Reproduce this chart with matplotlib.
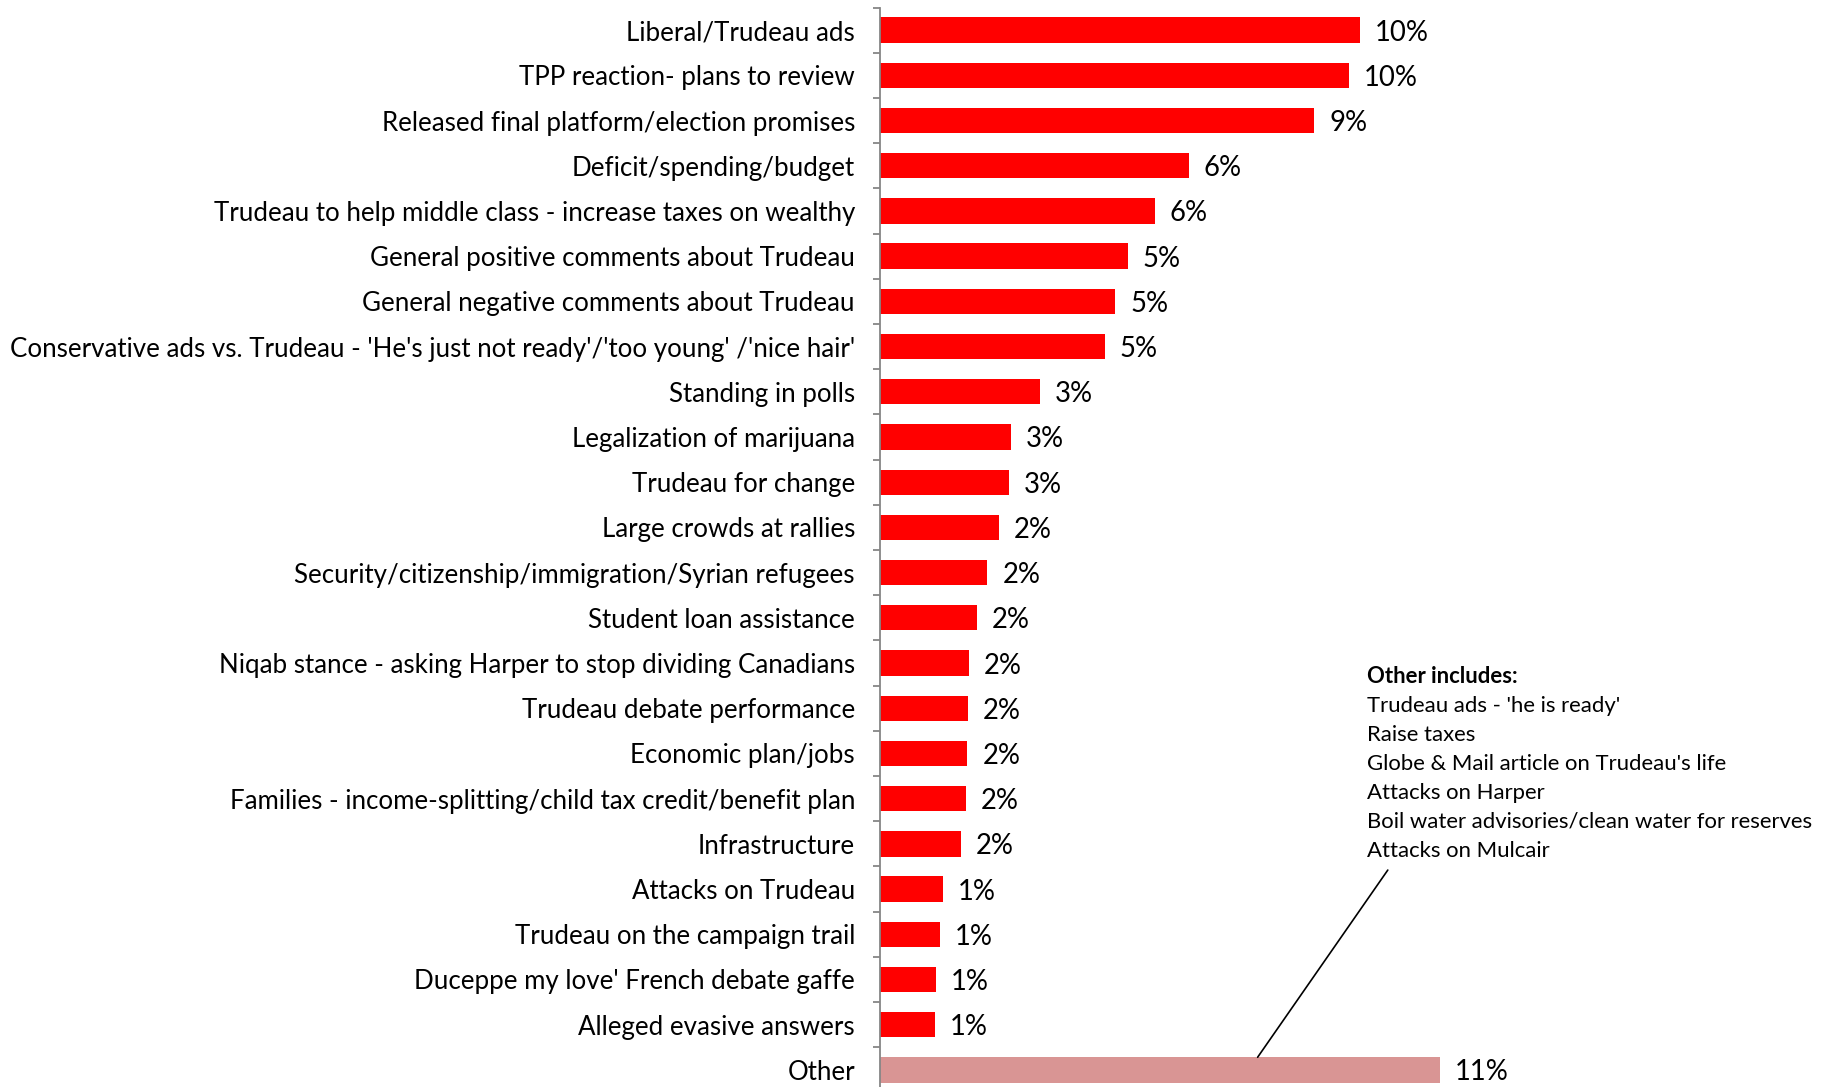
import matplotlib
matplotlib.use("Agg")
import matplotlib.pyplot as plt
from matplotlib.ticker import FixedLocator

categories = [
    "Liberal/Trudeau ads",
    "TPP reaction- plans to review",
    "Released final platform/election promises",
    "Deficit/spending/budget",
    "Trudeau to help middle class - increase taxes on wealthy",
    "General positive comments about Trudeau",
    "General negative comments about Trudeau",
    "Conservative ads vs. Trudeau - 'He's just not ready'/'too young' /'nice hair'",
    "Standing in polls",
    "Legalization of marijuana",
    "Trudeau for change",
    "Large crowds at rallies",
    "Security/citizenship/immigration/Syrian refugees",
    "Student loan assistance",
    "Niqab stance - asking Harper to stop dividing Canadians",
    "Trudeau debate performance",
    "Economic plan/jobs",
    "Families - income-splitting/child tax credit/benefit plan",
    "Infrastructure",
    "Attacks on Trudeau",
    "Trudeau on the campaign trail",
    "Duceppe my love' French debate gaffe",
    "Alleged evasive answers",
    "Other",
]
values = [9.74, 9.51, 8.81, 6.26, 5.57, 5.03, 4.77, 4.56, 3.24, 2.66, 2.62, 2.41,
          2.18, 1.96, 1.81, 1.79, 1.77, 1.74, 1.64, 1.27, 1.22, 1.13, 1.12, 11.36]
note_title = "Other includes:"
note_items = [
    "Trudeau ads - 'he is ready'",
    "Raise taxes",
    "Globe & Mail article on Trudeau's life",
    "Attacks on Harper",
    "Boil water advisories/clean water for reserves",
    "Attacks on Mulcair",
]

FONT = "Lato"
W, H = 1829, 1087
fig = plt.figure(figsize=(W / 100, H / 100), dpi=100)
ax_left_px, ax_top_px, ax_bot_px = 880, 7.5, 1092.5
ax = fig.add_axes([ax_left_px / W, 1 - ax_bot_px / H, (W - ax_left_px) / W, (ax_bot_px - ax_top_px) / H])

px_per_unit = 49.3
ax.set_xlim(0, (W - ax_left_px) / px_per_unit)
n = len(categories)
ax.set_ylim(n - 0.5, -0.5)

colors = ["#FF0000"] * (n - 1) + ["#D99594"]
ypos = list(range(n))
ax.barh(ypos, values, height=0.56, color=colors, edgecolor="none", zorder=2)

for y, v in zip(ypos, values):
    ax.text(v + 15 / px_per_unit, y, f"{v:.0f}%", va="center_baseline", ha="left",
            fontsize=19.8, family=FONT, color="black")

for s in ["top", "right", "bottom"]:
    ax.spines[s].set_visible(False)
ax.spines["left"].set_color("#868686")
ax.spines["left"].set_linewidth(1.3)
ax.set_xticks([])
ax.set_yticks(ypos)
ax.set_yticklabels(categories, fontsize=18.6, family=FONT)
ax.tick_params(axis="y", which="major", length=0, pad=18)
ax.yaxis.set_minor_locator(FixedLocator([i - 0.5 for i in range(n + 1)]))
ax.tick_params(axis="y", which="minor", length=4.8, width=1.3, color="#868686", direction="out")

# callout for "Other"
other_idx = n - 1
ax.annotate("", xy=(7.66, other_idx - 0.28), xytext=(10.30, 18.58),
            arrowprops=dict(arrowstyle="-", color="black", lw=1.2, shrinkA=0, shrinkB=0))

note_x = 1367 / W
line_y = [676.6 + 29.0 * i for i in range(len(note_items) + 1)]
fig.text(note_x, 1 - line_y[0] / H, note_title, fontsize=15.9, family=FONT,
         fontweight="bold", va="center", ha="left")
for yy, item in zip(line_y[1:], note_items):
    fig.text(note_x, 1 - yy / H, item, fontsize=15.9, family=FONT, va="center", ha="left")

fig.savefig("out.png", dpi=100, facecolor="white")
